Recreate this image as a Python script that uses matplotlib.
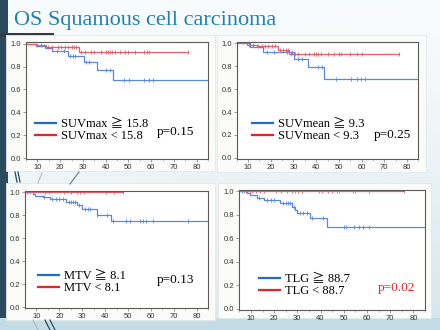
import numpy as np
import matplotlib
matplotlib.use('Agg')
import matplotlib.pyplot as plt
from matplotlib.lines import Line2D
from matplotlib.patches import Rectangle

W, H = 440, 330

# ---- data ----
titles = ['SUVmax', 'SUVmean', 'MTV', 'TLG']
cutoffs = ['15.8', '9.3', '8.1', '88.7']
p_values = ['p=0.15', 'p=0.25', 'p=0.13', 'p=0.02']

hi_times = [
    [0, 9.5, 13.5, 16.5, 23.4, 30.3, 36.1, 43.4, 85],
    [0, 11, 16.7, 30.4, 36.3, 43.5, 85],
    [0, 8.6, 9.5, 12.7, 15.9, 22.7, 27.9, 30, 36.3, 42.5, 85],
    [0, 8.2, 9.6, 12.5, 15.6, 22.5, 27.6, 29, 30, 35.5, 42.9, 85],
]
hi_surv = [
    [1.0, 0.977, 0.965, 0.94, 0.895, 0.84, 0.77, 0.68, 0.68],
    [1.0, 0.97, 0.925, 0.865, 0.79, 0.685, 0.685],
    [1.0, 0.985, 0.97, 0.96, 0.936, 0.913, 0.884, 0.85, 0.805, 0.747, 0.747],
    [1.0, 0.983, 0.969, 0.946, 0.923, 0.9, 0.87, 0.84, 0.82, 0.77, 0.693, 0.693],
]
hi_cens = [
    [18.6, 21.5, 24.4, 25.5, 26.5, 31.4, 32.9, 40.2, 41.9, 48, 50.4, 57, 59, 61],
    [18.5, 21.4, 27.3, 29.5, 32, 33.6, 40.7, 42.6, 48.8, 55.4, 57.9, 59.8, 61.5],
    [6, 7, 13.5, 17, 18.5, 20, 21.5, 24, 25, 26, 27, 28.5, 31, 32.5, 33.5, 36.5,
     41, 43.5, 48.9, 50.8, 55.2, 56.3, 57.6, 61, 76],
    [6, 7, 13.5, 17, 18.5, 20, 24, 25, 26, 27, 28.5, 31, 32.5, 34, 36.5, 41,
     50, 51, 54.5, 56.5, 58.5, 61],
]
lo_times = [
    [0, 9.5, 13.8, 28.3, 76.2],
    [0, 9.7, 13.8, 23.3, 28.2, 76.3],
    [0, 47.9],
    [0, 76],
]
lo_surv = [
    [1.0, 0.99, 0.975, 0.925, 0.925],
    [1.0, 0.985, 0.975, 0.945, 0.91, 0.91],
    [1.0, 1.0],
    [1.0, 1.0],
]
lo_cens = [
    [10, 11.5, 14.5, 16.5, 19, 20.5, 22, 23.5, 25, 26, 27, 29, 31, 33.5, 35, 38,
     40, 41, 42, 43, 44, 46.5, 48.5, 50, 53, 57, 58, 59, 76.2],
    [10.5, 12, 14.5, 16, 17.5, 19, 20.5, 22, 24, 25.5, 26.5, 27.5, 29, 30.5, 32,
     35, 37, 39, 40, 41, 42, 45, 48, 50, 51, 55, 58, 60, 76.3],
    [13.6, 15.3, 22.2, 25.2, 27.8, 29, 30.7, 40.3, 43.8, 47.9],
    [8, 9.5, 10.5, 12, 14, 15.5, 21, 23, 25.5, 27.5, 29, 30.5, 32, 39.5, 40.5,
     43, 45, 47, 48, 54, 55, 61, 76],
]
x_ticks = [10, 20, 30, 40, 50, 60, 70, 80]
y_ticks = [0.0, 0.2, 0.4, 0.6, 0.8, 1.0]

# pixel boxes (left, top, right, bottom)
axes_px = [(26, 42.3, 208, 159.3), (236.7, 42, 418.3, 159),
           (25, 190.7, 208.3, 308.3), (239.3, 190, 425, 310)]
panel_px = [(6, 35, 215, 171), (217, 35, 426, 172),
            (6, 183, 215, 320), (218, 183, 431, 318)]
legend_px = [(35, 118), (252, 118), (38, 270), (259, 273)]
p_pos = [(0.82, 0.23), (0.86, 0.205), (0.82, 0.24), (0.845, 0.18)]

serif = ['Liberation Serif', 'DejaVu Serif', 'Noto Sans CJK JP']


def fbox(l, t, r, b):
    return [l / W, 1 - b / H, (r - l) / W, (b - t) / H]


def surv_at(times, surv, c):
    i = np.searchsorted(times, c, side='right') - 1
    return surv[i]


fig = plt.figure(figsize=(4.4, 3.3), dpi=100)

# slide background
bg = fig.add_axes([0, 0, 1, 1], zorder=-10)
bg.axis('off')
yy, xx = np.mgrid[0:1:200j, 0:1:200j]
t = np.clip(0.55 * yy ** 1.5 + 0.25 * xx * yy, 0, 1)
top = np.array([0.975, 0.985, 0.99])
bot = np.array([0.80, 0.88, 0.91])
img = top[None, None, :] * (1 - t[..., None]) + bot[None, None, :] * t[..., None]
bg.imshow(img, extent=[0, 1, 0, 1], aspect='auto', origin='upper')
bg.set_xlim(0, 1)
bg.set_ylim(0, 1)
bg.add_patch(Rectangle((0, 0), 1, 12 / H, color='#c4dce6', lw=0))
bg.add_patch(Rectangle((0, 12 / H), 8 / W, 1 - 12 / H, color='#2c4a5e', lw=0))
bg.add_patch(Rectangle((0, 1 - 37 / H), 54 / W, 4 / H, color='#333b40', lw=0))
for l, tp, r, b in panel_px:
    bg.add_patch(Rectangle((l / W, 1 - b / H), (r - l) / W, (b - tp) / H,
                           facecolor='#fbfbfa', edgecolor='#e4e8ea', lw=0.6))
# decorative strokes
for (x0, y0, x1, y1, c) in [(38, 183, 42, 173, '#b8c4cc'), (70, 184, 79, 172, '#6f8796'),
                             (15, 172, 17, 182, '#2c4a5e'), (18, 172, 20, 182, '#2c4a5e'),
                             (33, 320, 38, 330, '#a8bcc8'), (45, 320, 50, 330, '#2c4a5e'),
                             (50, 320, 55, 330, '#2c4a5e')]:
    bg.plot([x0 / W, x1 / W], [1 - y0 / H, 1 - y1 / H], color=c, lw=0.9)

fig.text(14 / W, 1 - 25 / H, 'OS Squamous cell carcinoma', family=serif,
         fontsize=16, color='#2381ad', va='baseline', ha='left')

for k in range(4):
    ax = fig.add_axes(fbox(*axes_px[k]))
    ax.set_facecolor('white')
    ax.step(hi_times[k], hi_surv[k], where='post', color='#5a88de', lw=0.9)
    ax.step(lo_times[k], lo_surv[k], where='post', color='#e2606c', lw=0.9)
    hc = [surv_at(hi_times[k], hi_surv[k], c) for c in hi_cens[k]]
    lc = [surv_at(lo_times[k], lo_surv[k], c) for c in lo_cens[k]]
    ax.plot(hi_cens[k], hc, ls='none', marker='|', ms=3, mew=0.6, color='#5a88de')
    ax.plot(lo_cens[k], lc, ls='none', marker='|', ms=3, mew=0.6, color='#e2606c')
    ax.set_xlim(5, 85)
    ax.set_ylim(-0.01, 1.012)
    ax.set_xticks(x_ticks)
    ax.set_xticks(np.arange(5, 86, 5), minor=True)
    ax.set_yticks(y_ticks)
    ax.set_yticklabels(['%.1f' % v for v in y_ticks])
    ax.tick_params(length=2, width=0.5, color='#777777', pad=1.5,
                   labelsize=5.5, labelcolor='#333333')
    ax.tick_params(which='minor', length=1.2, width=0.4, color='#999999')
    for lab in ax.get_xticklabels() + ax.get_yticklabels():
        lab.set_family('Liberation Sans')
    for s in ax.spines.values():
        s.set_color('#5a5a5a')
        s.set_linewidth(0.8)

    handles = [Line2D([], [], color='#1f6ec6', lw=1.6),
               Line2D([], [], color='#e4232b', lw=1.6)]
    labels = ['%s \u2267 %s' % (titles[k], cutoffs[k]),
              '%s < %s' % (titles[k], cutoffs[k])]
    l, tp, r, b = axes_px[k]
    lx, ly = legend_px[k]
    leg = ax.legend(handles, labels, loc='upper left',
                    bbox_to_anchor=((lx - l) / (r - l), (b - ly) / (b - tp)),
                    frameon=False, prop={'family': serif, 'size': 9},
                    handlelength=1.7, handletextpad=0.35, labelspacing=0.0,
                    borderpad=0, borderaxespad=0)
    pc = '#e4232b' if k == 3 else 'black'
    ax.text(p_pos[k][0], p_pos[k][1], p_values[k], transform=ax.transAxes,
            family=serif, fontsize=9.5, color=pc, ha='center', va='center')

fig.savefig('out.png', dpi=100)
